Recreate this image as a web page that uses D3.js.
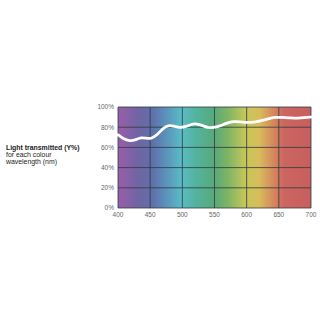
<!DOCTYPE html>
<html lang="en"><head>
<meta charset="utf-8">
<script src="https://cdn.jsdelivr.net/npm/d3@7"></script>
<style>
  body { margin: 0; background: #fff; }
  text { font-family: "Liberation Sans", Arial, sans-serif; }
</style>
</head>
<body>
<svg id="chart" width="320" height="320"></svg>
<script>
// transmission curve
const wavelengths = [400, 408, 418, 428, 436, 444, 452, 462, 470, 478, 488, 496, 506, 514, 522, 532, 540, 548, 558, 568, 580, 592, 605, 618, 632, 645, 655, 668, 680, 690, 700];
const transmitted = [72.5, 68.5, 66, 67.5, 70, 69, 68.5, 73, 79, 82, 81, 79.5, 80.5, 83, 83.5, 81.5, 79.5, 79.5, 81, 84, 86, 85, 84.5, 85.5, 88, 90, 89.8, 89, 89, 89.5, 90];
const xTicks = [400, 450, 500, 550, 600, 650, 700];
const yTicks = [0, 20, 40, 60, 80, 100];
const spectrumStops = [
  [0, "#9a5ea8"], [0.1, "#7164a4"], [0.18, "#5f70aa"], [0.26, "#5a98bd"],
  [0.33, "#5bbcc5"], [0.4, "#53b3a0"], [0.5, "#58a97a"], [0.57, "#7fb563"],
  [0.66, "#c6c65b"], [0.73, "#d8bd5a"], [0.8, "#d68b5d"], [0.86, "#cc6660"], [1, "#c75f5e"]
];

const svg = d3.select("#chart");
const m = { left: 118, right: 311, top: 107, bottom: 208 };

const x = d3.scaleLinear().domain([400, 700]).range([m.left, m.right]);
const y = d3.scaleLinear().domain([0, 100]).range([m.bottom, m.top]);

const grad = svg.append("defs").append("linearGradient")
  .attr("id", "spectrum").attr("x1", "0%").attr("x2", "100%");
grad.selectAll("stop").data(spectrumStops).enter().append("stop")
  .attr("offset", d => d[0]).attr("stop-color", d => d[1]);

svg.append("rect")
  .attr("x", m.left).attr("y", m.top)
  .attr("width", m.right - m.left).attr("height", m.bottom - m.top)
  .attr("fill", "url(#spectrum)");

// grid
svg.append("g").selectAll("line").data(xTicks).enter().append("line")
  .attr("x1", d => x(d)).attr("x2", d => x(d))
  .attr("y1", m.top).attr("y2", m.bottom)
  .attr("stroke", "#2e3a3e").attr("stroke-opacity", 0.8).attr("stroke-width", 1);
svg.append("g").selectAll("line").data(yTicks).enter().append("line")
  .attr("x1", m.left).attr("x2", m.right)
  .attr("y1", d => y(d)).attr("y2", d => y(d))
  .attr("stroke", "#2e3a3e").attr("stroke-opacity", 0.8).attr("stroke-width", 1);

// curve
const line = d3.line().x((d, i) => x(wavelengths[i])).y(d => y(d)).curve(d3.curveBasis);
svg.append("path")
  .datum(transmitted)
  .attr("d", line)
  .attr("fill", "none").attr("stroke", "#fff")
  .attr("stroke-width", 2.8).attr("stroke-linecap", "round");

// tick labels
svg.append("g").selectAll("text").data(xTicks).enter().append("text")
  .attr("x", d => x(d)).attr("y", 217)
  .attr("text-anchor", "middle").attr("font-size", 6.5).attr("fill", "#666")
  .text(d => d);
svg.append("g").selectAll("text").data(yTicks).enter().append("text")
  .attr("x", 114).attr("y", d => y(d) + 2.3)
  .attr("text-anchor", "end").attr("font-size", 6.5).attr("fill", "#666")
  .text(d => d + "%");

// side label
const lbl = svg.append("text").attr("x", 6).attr("y", 150).attr("font-size", 6.9).attr("fill", "#222");
lbl.append("tspan").attr("font-weight", "bold").text("Light transmitted (Y%)");
lbl.append("tspan").attr("x", 6).attr("dy", 7.2).text("for each colour");
lbl.append("tspan").attr("x", 6).attr("dy", 7.2).text("wavelength (nm)");
</script>
</body>
</html>
